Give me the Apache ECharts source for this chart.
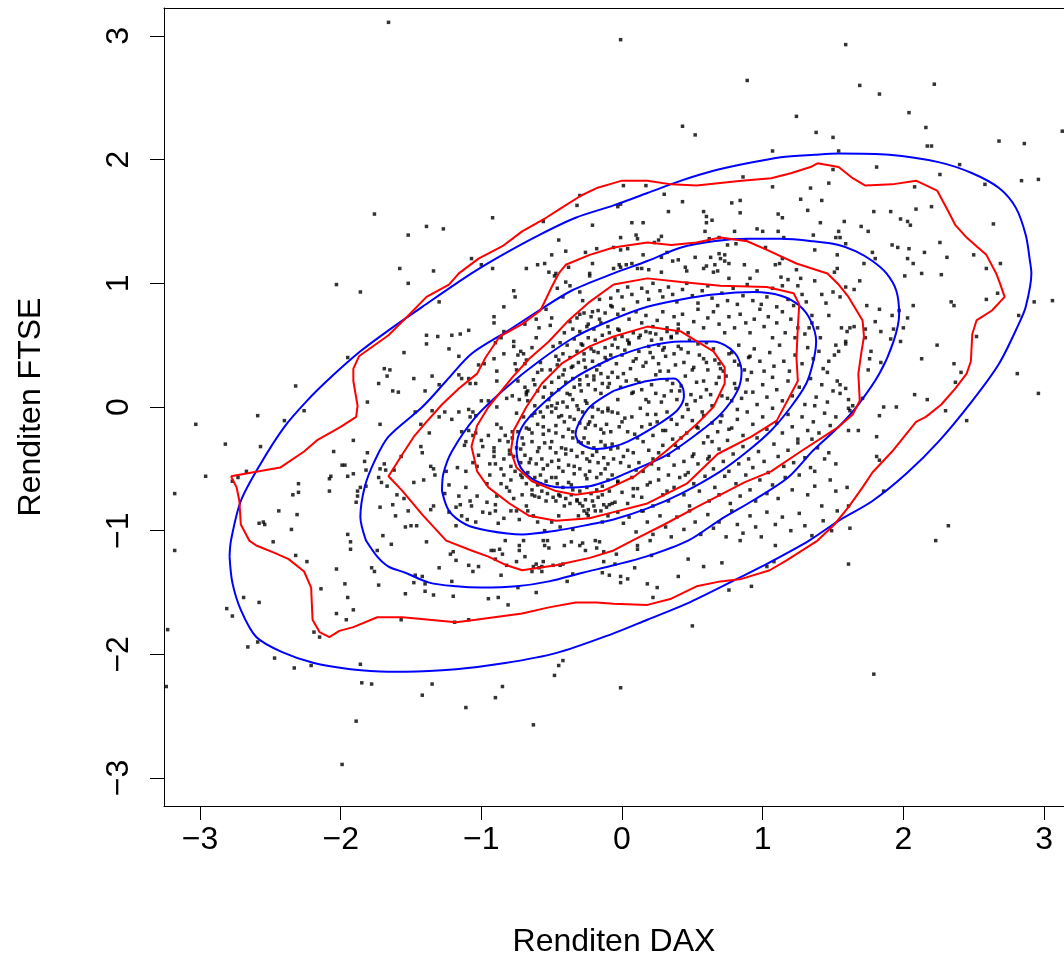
<!DOCTYPE html>
<html><head><meta charset="utf-8">
<script src="https://cdn.jsdelivr.net/npm/echarts@6/dist/echarts.min.js"></script>
<style>html,body{margin:0;padding:0;background:#fff}#c{width:1064px;height:958px}</style>
</head><body><div id="c"></div>
<script>
const xTicks=[-3,-2,-1,0,1,2,3];
const yTicks=[-3,-2,-1,0,1,2,3];
const xName='Renditen DAX';
const yName='Renditen FTSE';

// scattered returns (DAX, FTSE)
const pointsOuter=[
[-1.66,3.11],[-1.76,1.56],[-1.39,1.46],[-1.52,1.39],[-1.27,1.44],[-0.92,1.53],[-1.58,1.12],[-1.34,1.10],[-1.07,1.20],[-1.00,1.15],[-0.92,1.12],[-0.68,1.12],[-0.60,1.15],[-0.55,1.16],[-0.52,1.09],[-0.50,1.23],[-0.56,1.50],[-0.45,1.35],[-0.40,1.26],[-0.32,1.63],[-0.30,1.71],[-0.21,1.47],[-0.26,1.25],[-0.18,1.28],[-0.21,1.16],[-0.23,1.08],[-0.06,1.12],[-0.06,1.29],[-0.38,1.13],[-0.47,1.08],
[-0.01,2.97],[0.89,2.64],[1.24,2.35],[0.43,2.27],[0.52,2.20],[1.38,2.22],[1.50,2.18],[1.07,2.07],[1.54,2.07],[1.50,1.92],[0.86,1.86],[0.01,1.79],[0.17,1.79],[1.07,1.78],[1.34,1.77],[1.47,1.81],[0.30,1.72],[-0.03,1.62],[-0.01,1.64],[0.43,1.66],[0.78,1.65],[0.84,1.67],[1.27,1.68],[1.42,1.67],[0.33,1.58],[0.58,1.58],[0.60,1.54],[0.64,1.51],[0.84,1.57],[1.11,1.56],[1.14,1.53],[1.32,1.59],[1.41,1.49],[0.07,1.49],[0.15,1.49],[0.60,1.49],[-0.01,1.37],[0.10,1.39],[0.11,1.36],[0.28,1.38],[0.26,1.35],[0.23,1.33],[0.59,1.42],[0.80,1.42],[0.96,1.44],[1.00,1.42],[1.11,1.42],[1.36,1.39],[1.52,1.37],[1.54,1.42],[0.62,1.36],[0.69,1.37],[0.75,1.31],[0.81,1.32],[0.88,1.35],[1.02,1.29],[1.15,1.37],[1.37,1.27],[0.04,1.28],[-0.01,1.27],[0.15,1.23],[0.28,1.21],[0.32,1.25],[0.36,1.18],[0.40,1.19],[0.52,1.21],[0.63,1.21],[0.69,1.24],[0.73,1.23],[0.70,1.20],[0.73,1.18],[0.76,1.16],[0.87,1.15],[1.09,1.15],[1.12,1.16],[1.14,1.20],[1.53,1.23],[1.53,1.12],[-0.02,1.15],[0.03,1.15],[0.07,1.16],[0.11,1.12],[0.14,1.12],[0.19,1.11],[0.28,1.09],[0.45,1.13],[0.46,1.10],[0.58,1.12],[0.60,1.14],[0.65,1.09],[0.66,1.15],[0.68,1.10],[0.96,1.10],[1.24,1.11],[1.51,1.09],[-0.01,1.13],
[1.59,2.93],[1.69,2.60],[1.83,2.53],[2.22,2.61],[2.04,2.38],[2.16,2.26],[2.17,2.11],[2.20,2.11],[2.68,2.15],[2.86,2.13],[3.13,2.23],[1.81,1.94],[2.40,1.96],[2.26,1.88],[2.08,1.78],[2.84,1.83],[2.96,1.84],[2.58,1.80],[1.79,1.58],[1.91,1.58],[2.09,1.60],[2.20,1.62],[1.58,1.50],[1.98,1.52],[2.03,1.50],[2.05,1.47],[1.70,1.46],[1.75,1.42],[1.55,1.37],[2.64,1.48],[1.59,1.32],[1.92,1.31],[1.96,1.29],[2.04,1.28],[2.26,1.33],[2.15,1.25],[1.78,1.25],[1.80,1.20],[2.03,1.20],[2.07,1.16],[1.72,1.16],[2.31,1.21],[2.50,1.23],[2.69,1.16],[2.59,1.12],[2.13,1.08],
[-2.03,0.99],[-1.86,0.93],[-1.95,0.40],[-1.69,0.31],[-1.67,0.25],[-1.73,0.19],[-2.32,0.17],[-1.81,0.04],[-2.26,-0.03],[-2.59,-0.07],[-2.40,-0.11],[-3.03,-0.14],[-1.72,-0.14],[-1.91,-0.27],[-2.82,-0.30],[-2.57,-0.32],[-2.05,-0.36],[-1.81,-0.37],[-1.99,-0.47],[-1.97,-0.47],[-1.83,-0.44],[-1.69,-0.46],[-1.82,-0.51],[-1.72,-0.50],[-1.68,-0.51],[-1.91,-0.54],[-1.95,-0.56],[-2.07,-0.56],[-2.08,-0.58],[-1.73,-0.57],[-2.67,-0.52],[-2.96,-0.56],[-2.73,-0.57],[-2.77,-0.60],[-1.71,-0.61],[-1.67,-0.64],[-2.30,-0.62],[-1.82,-0.64],[-1.86,-0.65],[-1.88,-0.68],[-2.30,-0.69],[-2.34,-0.71],[-2.08,-0.68],[-1.88,-0.72],[-1.89,-0.77],[-3.18,-0.70],[-1.72,-0.81],[-2.44,-0.84],[-2.31,-0.87],[-2.58,-0.94],[-2.55,-0.93],[-2.54,-0.95],[-2.35,-0.99],[-1.95,-1.03],[-1.70,-1.04],
[-3.18,-1.16],[-2.48,-1.09],[-2.32,-1.20],[-2.24,-1.25],[-1.93,-1.09],[-1.93,-1.15],[-1.74,-1.16],[-2.03,-1.31],[-1.78,-1.30],[-1.76,-1.33],[-1.97,-1.43],[-1.73,-1.44],[-2.14,-1.47],[-1.95,-1.54],[-2.69,-1.54],[-2.58,-1.58],[-2.81,-1.63],[-2.77,-1.69],[-1.91,-1.64],[-2.03,-1.67],[-1.96,-1.72],[-3.23,-1.80],[-2.19,-1.82],[-2.15,-1.86],[-2.59,-1.90],[-2.66,-1.94],[-2.47,-2.03],[-2.33,-2.11],[-2.21,-2.09],[-1.86,-2.08],[-1.85,-2.23],[-1.78,-2.24],[-1.89,-2.54],[-1.99,-2.89],[-3.24,-2.26],
[-1.64,-1.11],[-1.39,-1.09],[-1.22,-1.19],[-1.20,-1.17],[-1.18,-1.24],[-1.30,-1.30],[-1.47,-1.36],[-1.42,-1.37],[-1.48,-1.42],[-1.40,-1.43],[-1.40,-1.49],[-1.54,-1.51],[-1.34,-1.52],[-1.21,-1.41],[-1.20,-1.53],[-1.09,-1.28],[-1.06,-1.33],[-1.02,-1.29],[-0.93,-1.16],[-0.91,-1.16],[-0.87,-1.15],[-0.85,-1.19],[-0.90,-1.23],[-0.83,-1.08],[-0.82,-1.28],[-0.86,-1.36],[-0.75,-1.25],[-0.73,-1.16],[-0.73,-1.12],[-0.69,-1.21],[-0.70,-1.08],[-0.74,-1.46],[-0.95,-1.55],[-0.88,-1.54],[-0.81,-1.60],[-0.64,-1.33],[-0.63,-1.29],[-0.61,-1.27],[-0.59,-1.30],[-0.57,-1.29],[-0.56,-1.25],[-0.57,-1.33],[-0.56,-1.08],[-0.55,-1.12],[-0.53,-1.08],[-0.52,-1.14],[-0.49,-1.28],[-0.44,-1.28],[-0.42,-1.27],[-0.41,-1.12],[-0.36,-1.09],[-0.39,-1.41],[-0.35,-1.35],[-0.30,-1.12],[-0.28,-1.10],[-0.26,-1.16],[-0.19,-1.08],[-0.16,-1.09],[-0.18,-1.14],[-0.13,-1.17],[-0.13,-1.25],[-0.14,-1.34],[-0.09,-1.36],[-0.61,-1.50],[-1.57,-1.72],[-1.19,-1.74],[-1.09,-1.72],[-1.35,-2.24],[-1.42,-2.33],[-1.11,-2.43],[-0.90,-2.35],[-0.85,-2.26],[-0.48,-2.17],[-0.45,-2.09],[-0.42,-2.05],[-0.63,-2.57],
[-0.04,-1.19],[-0.05,-1.27],[0.11,-1.12],[0.11,-1.15],[0.20,-1.08],[0.21,-1.20],[0.09,-1.30],[-0.01,-1.37],[-0.01,-1.42],[0.04,-1.39],[0.18,-1.43],[0.25,-1.46],[0.22,-1.54],[0.40,-1.37],[0.47,-1.23],[0.58,-1.29],[0.71,-1.26],[0.84,-1.08],[1.09,-1.12],[1.03,-1.29],[1.08,-1.25],[0.76,-1.48],[0.92,-1.45],[0.50,-1.77],[-0.01,-2.27],
[2.23,-1.08],[1.61,-1.27],[1.79,-2.16],
[1.69,1.02],[2.01,1.06],[2.27,1.07],[1.59,0.97],[1.65,0.95],[1.55,0.89],[1.74,0.82],[1.83,0.79],[1.92,0.74],[1.97,0.78],[2.07,0.82],[2.03,0.72],[2.34,0.85],[2.36,0.82],[2.59,0.87],[2.67,0.92],[2.93,0.85],[3.06,0.86],[2.82,0.74],[1.80,0.69],[1.56,0.64],[1.62,0.64],[1.65,0.65],[1.60,0.61],[1.73,0.63],[1.84,0.61],[1.93,0.63],[2.00,0.64],[1.73,0.56],[1.91,0.55],[1.98,0.53],[1.59,0.53],[1.59,0.51],[2.52,0.57],[2.24,0.50],[1.54,0.45],[1.77,0.45],[1.76,0.39],[2.13,0.39],[1.84,0.36],[1.75,0.30],[2.36,0.35],[2.41,0.28],[2.81,0.27],[2.37,0.20],[1.55,0.18],[1.59,0.15],[1.55,0.11],[2.96,0.11],[2.08,0.10],[2.17,0.06],[1.71,0.07],[1.61,0.06],[1.86,0.00],[1.95,0.00],[1.61,-0.01],[1.64,0.01],[1.62,-0.03],[1.83,-0.07],[2.30,-0.03],[2.45,-0.11],[1.61,-0.19],[1.68,-0.19],[1.81,-0.24],[1.81,-0.40],[1.83,-0.43],[1.60,-0.65],[1.86,-0.68],[1.61,-0.80],[1.62,-0.98],[2.32,-0.96]
];
const pointsLeftCore=[
[-1.52,1.00],[-1.30,0.85],[-0.77,0.94],[-0.76,0.89],[-0.84,0.81],[-0.48,1.06],[-0.40,1.01],[-0.37,0.98],[-0.46,0.96],[-0.42,0.89],[-0.30,0.93],[-0.28,0.86],[-0.23,1.06],[-0.16,0.87],[-0.08,0.88],[-0.08,0.82],[-0.21,0.77],[-0.30,0.75],[-0.16,0.71],[-0.24,0.67],[-0.50,0.72],[-0.51,0.66],[-0.54,0.79],[-0.61,0.71],[-0.59,0.64],[-0.69,0.67],[-0.61,0.56],[-0.64,0.48],[-0.77,0.53],[-0.77,0.49],[-0.91,0.73],[-0.91,0.68],[-0.84,0.61],[-0.86,0.56],[-1.09,0.62],[-1.15,0.59],[-1.21,0.58],[-1.31,0.57],[-1.39,0.58],[-1.39,0.51],[-1.23,0.47],[-1.16,0.41],[-1.55,0.44],[-1.65,0.30],[-1.48,0.23],[-1.35,0.25],[-1.30,0.18],[-1.16,0.26],[-1.14,0.23],[-1.09,0.23],[-1.08,0.19],[-1.04,0.19],[-1.02,0.34],[-0.98,0.35],[-0.84,0.43],[-0.90,0.52],[-0.91,0.39],[-0.89,0.21],[-0.89,0.29],[-0.74,0.42],[-0.72,0.45],[-0.70,0.43],[-0.76,0.35],[-0.75,0.30],[-0.69,0.35],[-0.68,0.38],[-0.58,0.36],[-0.57,0.30],[-0.63,0.22],[-0.62,0.18],[-0.69,0.16],[-0.68,0.12],[-0.67,0.13],[-0.74,0.21],[-0.78,0.09],[-0.73,0.06],[-0.82,0.07],[-0.89,0.00],[-0.95,0.05],[-1.00,0.05],[-1.09,-0.02],[-1.06,-0.04],[-1.04,-0.07],[-1.08,-0.08],[-1.16,-0.04],[-1.21,-0.10],[-1.26,-0.04],[-1.35,-0.03],[-1.30,-0.08],[-1.37,-0.21],[-1.43,-0.14],[-1.47,-0.04],[-1.63,0.13],[-1.59,0.12],[-1.40,0.13],[-1.43,-0.32],[-1.42,-0.37],[-1.57,-0.40],[-1.62,-0.51],[-1.48,-0.61],[-1.36,-0.48],[-1.34,-0.50],[-1.41,-0.59],[-1.33,-0.55],[-1.25,-0.52],[-1.23,-0.63],[-1.26,-0.70],[-1.17,-0.49],[-1.11,-0.52],[-1.06,-0.45],[-1.03,-0.48],[-1.02,-0.39],[-1.11,-0.28],[-1.12,-0.31],[-1.14,-0.20],[-1.09,-0.19],[-1.06,-0.23],[-1.04,-0.21],[-1.00,-0.27],[-0.95,-0.23],[-0.89,-0.14],[-0.86,-0.17],[-0.83,-0.23],[-0.87,-0.27],[-0.91,-0.33],[-0.91,-0.36],[-0.91,-0.40],[-0.99,-0.32],[-0.94,-0.46],[-0.90,-0.46],[-0.86,-0.50],[-0.84,-0.55],[-0.94,-0.55],[-0.96,-0.62],[-0.86,-0.62],[-0.82,-0.65],[-0.79,-0.59],[-0.80,-0.68],[-0.89,-0.72],[-0.90,-0.79],[-0.96,-0.77],[-1.03,-0.72],[-1.11,-0.65],[-1.16,-0.72],[-1.15,-0.79],[-1.08,-0.76],[-1.07,-0.80],[-1.18,-0.81],[-1.23,-0.85],[-1.34,-0.80],[-1.36,-0.83],[-1.52,-0.84],[-1.55,-0.74],[-1.61,-0.88],[-1.63,-0.79],[-1.60,-0.71],[-1.46,-0.96],[-1.50,-0.96],[-1.54,-0.97],[-1.18,-0.96],[-1.14,-0.88],[-1.10,-0.91],[-1.04,-0.93],[-0.99,-0.85],[-0.94,-0.86],[-0.90,-0.84],[-0.88,-0.94],[-0.84,-0.90],[-0.79,-0.84],[-0.75,-0.84],[-0.73,-0.91],[-0.68,-0.80],[-0.67,-0.84],[-0.63,-0.88],[-0.60,-0.93],[-0.55,-1.00],[-0.50,-0.93],[-0.45,-0.88],[-0.44,-0.97],[-0.35,-0.99],[-0.31,-0.88],[-0.27,-0.84],[-0.24,-0.88],[-0.19,-0.84],[-0.14,-0.93],[-0.10,-0.88],[-0.09,-0.79],[-0.13,-0.79],[-0.21,-0.76],[-0.26,-0.75],[-0.32,-0.76],[-0.37,-0.78],[-0.41,-0.80],[-0.47,-0.76],[-0.54,-0.76],[-0.59,-0.73],[-0.64,-0.71],[-0.71,-0.71],[-0.77,-0.74],
[-0.60,0.13],[-0.55,0.16],[-0.52,0.06],[-0.50,0.01],[-0.47,-0.01],[-0.42,0.04],[-0.39,0.00],[-0.35,0.06],[-0.32,0.01],[-0.28,-0.04],[-0.25,0.03],[-0.21,0.00],[-0.17,-0.02],[-0.14,-0.04],[-0.10,-0.01],[-0.07,-0.04],[-0.50,-0.04],[-0.45,-0.08],[-0.41,-0.12],[-0.37,-0.08],[-0.34,-0.10],[-0.30,-0.13],[-0.26,-0.17],[-0.23,-0.12],[-0.19,-0.15],[-0.15,-0.18],[-0.11,-0.14],[-0.08,-0.20],[-0.56,-0.16],[-0.52,-0.19],[-0.47,-0.21],[-0.42,-0.24],[-0.38,-0.18],[-0.35,-0.25],[-0.31,-0.28],[-0.27,-0.25],[-0.24,-0.29],[-0.20,-0.33],[-0.15,-0.28],[-0.12,-0.31],[-0.08,-0.34],[-0.64,-0.28],[-0.59,-0.33],[-0.55,-0.29],[-0.51,-0.33],[-0.47,-0.37],[-0.43,-0.33],[-0.40,-0.38],[-0.36,-0.35],[-0.32,-0.40],[-0.28,-0.37],[-0.25,-0.42],[-0.21,-0.39],[-0.17,-0.45],[-0.13,-0.41],[-0.10,-0.46],[-0.06,-0.42],[-0.69,-0.39],[-0.65,-0.42],[-0.61,-0.46],[-0.57,-0.42],[-0.53,-0.47],[-0.50,-0.44],[-0.45,-0.49],[-0.42,-0.52],[-0.38,-0.47],[-0.34,-0.54],[-0.30,-0.50],[-0.26,-0.55],[-0.23,-0.52],[-0.18,-0.57],[-0.15,-0.54],[-0.10,-0.59],[-0.07,-0.55],[-0.67,-0.53],[-0.62,-0.57],[-0.58,-0.55],[-0.54,-0.60],[-0.50,-0.57],[-0.46,-0.62],[-0.42,-0.65],[-0.38,-0.61],[-0.35,-0.67],[-0.30,-0.68],[-0.25,-0.65],[-0.22,-0.70],[-0.18,-0.67],[-0.14,-0.71],[-0.09,-0.68],[-0.53,-0.70],[-0.49,-0.73],[-0.45,-0.71],[-0.40,-0.74],[-0.36,-0.71],[-0.32,-0.75],[-0.28,-0.80],[-0.24,-0.83],[-0.20,-0.80],[-0.15,-0.84],[-0.11,-0.81],[-0.07,-0.78],[-0.60,-0.14],[-0.64,-0.21],[-0.68,-0.17],[-0.71,-0.25],[-0.74,-0.20],[-0.78,-0.25],[-0.81,-0.28],[-0.75,-0.33],[-0.72,-0.34],[-0.77,-0.40],[-0.72,-0.45],[-0.80,-0.38],[-0.84,-0.42],[-0.79,-0.48],[-0.76,-0.52],[-0.71,-0.57],[-0.68,-0.62],[-0.64,-0.67],[-0.60,-0.63],[-0.57,-0.68],[-0.56,-0.08],[-0.58,-0.04],[-0.64,-0.07],[-0.62,0.01],[-0.67,0.05],[-0.70,-0.08],[-0.50,0.11],[-0.45,0.14],[-0.39,0.11],[-0.34,0.16],[-0.29,0.13],[-0.24,0.18],[-0.19,0.14],[-0.14,0.19],[-0.10,0.16],[-0.45,0.24],[-0.40,0.20],[-0.35,0.23],[-0.30,0.22],[-0.25,0.25],[-0.20,0.22],[-0.15,0.27],[-0.10,0.24],[-0.07,0.28],[-0.51,0.30],[-0.46,0.34],[-0.41,0.30],[-0.36,0.32],[-0.31,0.36],[-0.26,0.32],[-0.21,0.37],[-0.16,0.34],[-0.11,0.38],[-0.08,0.42],[-0.47,0.41],[-0.42,0.43],[-0.37,0.40],[-0.32,0.45],[-0.27,0.43],[-0.22,0.47],[-0.17,0.44],[-0.12,0.48],[-0.07,0.50],[-0.49,0.49],[-0.44,0.52],[-0.39,0.50],[-0.34,0.55],[-0.29,0.51],[-0.24,0.56],[-0.19,0.54],[-0.14,0.58],[-0.09,0.60],[-0.41,0.60],[-0.35,0.63],[-0.30,0.61],[-0.25,0.65],[-0.20,0.63],[-0.15,0.68],[-0.10,0.65],[-0.37,0.69],[-0.32,0.72],[-0.27,0.76],[-0.22,0.73],[-0.17,0.78],[-0.12,0.76],[-0.07,0.81]
];
const pointsRightCore=[
[-0.03,0.94],[0.00,0.89],[0.04,0.97],[0.07,0.91],[0.11,0.85],[0.14,0.96],[0.18,0.93],[0.19,0.87],[0.22,1.00],[0.27,0.94],[0.29,0.89],[0.33,0.97],[0.36,0.91],[0.39,0.85],[0.43,0.95],[0.46,1.00],[0.50,0.90],[0.54,0.84],[0.57,0.94],[0.61,0.98],[0.64,0.88],[0.68,0.82],[0.71,0.92],[0.75,0.86],[0.76,1.04],[0.79,0.96],[0.82,0.83],[0.86,0.90],[0.89,0.99],[0.91,1.04],[0.93,0.86],[0.96,0.94],[0.99,0.83],[1.03,0.89],[1.07,0.96],[1.10,0.81],[1.13,1.05],[1.14,0.98],[1.18,0.87],[1.18,1.03],[1.22,0.82],[1.25,0.98],[1.27,1.04],[1.28,0.91],[1.31,0.85],[1.37,1.02],[1.42,0.91],[1.45,0.84],[1.47,0.74],[1.50,0.93],[1.35,0.74],[1.39,0.64],[1.33,0.64],
[-0.03,0.75],[0.01,0.79],[0.05,0.71],[0.10,0.77],[0.14,0.68],[0.17,0.74],[0.22,0.65],[0.25,0.70],[0.29,0.77],[0.32,0.64],[0.37,0.73],[0.40,0.67],[0.43,0.75],[0.47,0.60],[0.51,0.69],[0.54,0.79],[0.58,0.64],[0.61,0.72],[0.65,0.77],[0.69,0.67],[0.73,0.60],[0.76,0.73],[0.80,0.64],[0.84,0.75],[0.88,0.68],[0.91,0.60],[0.94,0.71],[0.98,0.79],[1.01,0.65],[1.04,0.73],[1.07,0.56],[1.10,0.68],[1.14,0.77],[1.16,0.60],[1.20,0.71],[1.23,0.56],[1.25,0.64],[1.30,0.59],[1.35,0.68],[1.41,0.56],[-0.03,0.63],[0.00,0.57],[0.04,0.54],[0.08,0.60],[0.12,0.56],[0.17,0.61],[0.21,0.54],[0.24,0.59],[0.28,0.55],[0.32,0.61],[0.35,0.56],[0.39,0.60],
[-0.03,0.48],[0.00,0.42],[0.05,0.51],[0.08,0.37],[0.12,0.45],[0.15,0.33],[0.19,0.49],[0.22,0.40],[0.26,0.35],[0.29,0.46],[0.33,0.29],[0.37,0.43],[0.40,0.49],[0.44,0.36],[0.47,0.44],[0.51,0.32],[0.54,0.51],[0.58,0.39],[0.61,0.30],[0.65,0.47],[0.69,0.35],[0.72,0.29],[0.76,0.43],[0.80,0.37],[0.83,0.50],[0.87,0.30],[0.91,0.41],[0.94,0.47],[0.98,0.37],[1.01,0.29],[1.05,0.44],[1.08,0.33],[1.12,0.50],[1.15,0.37],[1.19,0.29],[1.23,0.42],[1.28,0.35],[1.32,0.48],[1.36,0.39],[1.40,0.45],[1.43,0.31],[1.47,0.37],[1.51,0.42],[1.46,0.28],[1.52,0.50],
[-0.03,0.24],[-0.01,0.16],[0.03,0.21],[0.07,0.11],[0.10,0.22],[0.14,0.14],[0.17,0.06],[0.21,0.18],[0.24,0.11],[0.28,0.04],[0.32,0.22],[0.35,0.13],[0.39,0.06],[0.42,0.17],[0.46,0.02],[0.49,0.10],[0.53,0.20],[0.56,0.08],[0.60,0.14],[0.64,0.01],[0.67,0.19],[0.71,0.09],[0.74,0.25],[0.78,0.05],[0.81,0.15],[0.85,0.07],[0.89,0.22],[0.93,0.12],[0.96,0.02],[1.00,0.18],[1.03,0.08],[1.07,0.24],[1.10,0.14],[1.14,0.05],[1.18,0.21],[1.21,0.09],[1.26,0.16],[1.30,0.02],[1.34,0.23],[1.38,0.08],[1.42,0.18],[1.46,0.04],[1.50,0.13],[1.53,0.21],[1.37,0.01],
[-0.03,-0.05],[0.00,-0.12],[0.04,-0.20],[0.07,-0.08],[0.11,-0.25],[0.14,-0.16],[0.18,-0.06],[0.22,-0.23],[0.25,-0.12],[0.29,-0.19],[0.32,-0.04],[0.36,-0.26],[0.39,-0.14],[0.43,-0.08],[0.46,-0.21],[0.50,-0.11],[0.54,-0.17],[0.57,-0.04],[0.61,-0.24],[0.64,-0.13],[0.68,-0.20],[0.71,-0.07],[0.75,-0.27],[0.78,-0.17],[0.82,-0.10],[0.86,-0.23],[0.89,-0.04],[0.93,-0.14],[0.96,-0.25],[1.00,-0.08],[1.03,-0.18],[1.07,-0.01],[1.10,-0.13],[1.14,-0.21],[1.18,-0.06],[1.21,-0.16],[1.25,-0.26],[1.28,-0.08],[1.32,-0.19],[1.36,-0.12],[1.40,-0.21],[1.44,-0.05],[1.48,-0.15],[1.52,-0.08],[1.35,-0.26],
[-0.03,-0.33],[0.01,-0.40],[0.05,-0.48],[0.08,-0.37],[0.12,-0.45],[0.15,-0.52],[0.19,-0.35],[0.22,-0.42],[0.26,-0.50],[0.29,-0.31],[0.33,-0.39],[0.37,-0.47],[0.40,-0.33],[0.44,-0.44],[0.47,-0.53],[0.51,-0.38],[0.54,-0.46],[0.58,-0.29],[0.61,-0.42],[0.65,-0.50],[0.69,-0.34],[0.72,-0.44],[0.76,-0.52],[0.79,-0.38],[0.83,-0.46],[0.86,-0.32],[0.90,-0.42],[0.93,-0.49],[0.97,-0.36],[1.01,-0.44],[1.04,-0.53],[1.08,-0.30],[1.11,-0.40],[1.15,-0.48],[1.18,-0.35],[1.22,-0.45],[1.25,-0.29],[1.30,-0.41],[1.34,-0.49],[1.39,-0.33],[1.44,-0.42],[1.47,-0.37],[1.52,-0.46],[1.37,-0.52],
[-0.03,-0.61],[0.00,-0.69],[0.04,-0.78],[0.07,-0.57],[0.11,-0.66],[0.14,-0.73],[0.18,-0.63],[0.22,-0.80],[0.26,-0.59],[0.29,-0.71],[0.33,-0.76],[0.37,-0.65],[0.41,-0.57],[0.44,-0.71],[0.48,-0.80],[0.51,-0.62],[0.55,-0.68],[0.59,-0.56],[0.62,-0.76],[0.66,-0.65],[0.69,-0.71],[0.73,-0.56],[0.77,-0.78],[0.81,-0.62],[0.84,-0.72],[0.88,-0.55],[0.91,-0.67],[0.95,-0.76],[0.98,-0.59],[1.03,-0.70],[1.07,-0.63],[1.11,-0.74],[1.16,-0.57],[1.21,-0.67],[1.26,-0.55],[1.32,-0.71],[1.37,-0.64],[1.42,-0.80],[1.48,-0.59],[1.52,-0.68],
[-0.03,-0.85],[0.01,-0.94],[0.05,-0.89],[0.10,-1.01],[0.14,-0.84],[0.18,-0.93],[0.22,-1.03],[0.27,-0.88],[0.31,-0.97],[0.35,-1.05],[0.39,-0.89],[0.44,-0.99],[0.48,-0.84],[0.52,-0.93],[0.56,-1.03],[0.61,-0.87],[0.65,-0.98],[0.69,-0.93],[0.74,-1.05],[0.78,-0.84],[0.82,-0.95],[0.86,-1.02],[0.91,-0.88],[0.95,-0.97],[0.99,-1.05],[1.03,-0.85],[1.09,-0.95],[1.14,-0.89],[1.20,-1.00],[1.26,-0.86],[1.30,-0.96],[1.35,-1.04],[1.43,-0.92],[1.49,-1.00],[1.53,-0.84]
];
const pointsCenter=[
[-0.05,0.55],[0.05,0.52],[0.13,0.58],[0.26,0.50],[0.35,0.57],[0.48,0.54],[0.60,0.52],
[-0.20,0.45],[-0.12,0.40],[0.02,0.46],[0.10,0.39],[0.20,0.44],[0.31,0.41],[0.42,0.47],[0.55,0.42],[0.66,0.38],[0.78,0.44],
[-0.35,0.33],[-0.27,0.38],[-0.18,0.30],[-0.04,0.35],[0.06,0.31],[0.17,0.36],[0.27,0.29],[0.38,0.34],[0.50,0.30],[0.60,0.36],[0.70,0.31],[0.83,0.34],
[-0.50,0.20],[-0.42,0.26],[-0.30,0.18],[-0.20,0.25],[-0.09,0.19],[0.01,0.27],[0.12,0.20],[0.24,0.26],[0.36,0.19],[0.45,0.25],[0.58,0.21],[0.69,0.24],[0.80,0.19],
[-0.56,0.08],[-0.46,0.03],[-0.37,0.10],[-0.26,0.05],[-0.15,0.11],[-0.03,0.06],[0.08,0.12],[0.19,0.04],[0.30,0.09],[0.41,0.13],[0.52,0.05],[0.63,0.10],[0.75,0.07],
[-0.62,-0.05],[-0.53,0.00],[-0.43,-0.07],[-0.31,-0.02],[-0.21,-0.08],[-0.10,-0.03],[0.02,-0.09],[0.13,-0.01],[0.24,-0.06],[0.35,-0.10],[0.47,-0.02],[0.58,-0.07],[0.70,-0.12],
[-0.66,-0.18],[-0.56,-0.22],[-0.47,-0.15],[-0.35,-0.20],[-0.24,-0.14],[-0.13,-0.21],[-0.02,-0.16],[0.09,-0.22],[0.20,-0.14],[0.31,-0.19],[0.42,-0.25],[0.53,-0.16],[0.64,-0.28],
[-0.70,-0.30],[-0.60,-0.36],[-0.50,-0.28],[-0.40,-0.34],[-0.29,-0.29],[-0.18,-0.36],[-0.07,-0.30],[0.04,-0.35],[0.15,-0.28],[0.26,-0.37],[0.38,-0.31],[0.50,-0.40],
[-0.66,-0.45],[-0.56,-0.50],[-0.45,-0.43],[-0.34,-0.48],[-0.23,-0.44],[-0.12,-0.50],[-0.01,-0.45],[0.10,-0.51],[0.21,-0.46],[0.33,-0.55],
[-0.58,-0.62],[-0.47,-0.57],[-0.36,-0.63],[-0.25,-0.58],[-0.14,-0.64],[-0.03,-0.60],[0.08,-0.66],[0.20,-0.61],
[-0.44,-0.72],[-0.30,-0.78],[-0.17,-0.73],[-0.05,-0.77],[0.08,-0.72],
[-0.02,0.62],[0.20,0.60],[0.40,0.63],[-0.28,0.50],[0.30,0.48],[0.90,0.40],[-0.45,0.38],[0.92,0.28],[-0.60,0.28],[-0.68,0.10],[0.88,0.12],[-0.75,-0.05],[0.82,-0.02],[-0.78,-0.20],[0.76,-0.18],[-0.80,-0.35],[0.62,-0.40],[-0.72,-0.55],[0.45,-0.55],[-0.62,-0.72],[0.32,-0.68],[-0.25,-0.86],[0.15,-0.84]
];

// fitted normal density contours (blue)
const blue1=[[-2.79,-1.21],[-2.78,-1.08],[-2.71,-0.76],[-2.57,-0.46],[-2.40,-0.16],[-2.24,0.05],[-2.07,0.24],[-1.86,0.45],[-1.66,0.62],[-1.42,0.81],[-1.07,1.08],[-0.85,1.23],[-0.59,1.39],[-0.33,1.53],[-0.06,1.63],[0.18,1.73],[0.42,1.83],[0.65,1.91],[0.89,1.97],[1.13,2.02],[1.37,2.04],[1.54,2.05],[1.90,2.04],[2.25,1.98],[2.49,1.89],[2.68,1.77],[2.80,1.61],[2.87,1.39],[2.90,1.18],[2.91,1.08],[2.87,0.81],[2.82,0.67],[2.68,0.35],[2.49,0.05],[2.25,-0.28],[2.02,-0.54],[1.78,-0.76],[1.54,-0.92],[1.33,-1.08],[1.06,-1.25],[0.80,-1.40],[0.46,-1.59],[0.18,-1.72],[-0.06,-1.83],[-0.47,-1.99],[-0.83,-2.07],[-1.18,-2.12],[-1.54,-2.14],[-1.66,-2.14],[-1.93,-2.12],[-2.19,-2.07],[-2.42,-1.98],[-2.60,-1.86],[-2.71,-1.64],[-2.77,-1.42]];
const blue2=[[-1.82,-1.08],[-1.86,-0.89],[-1.83,-0.65],[-1.76,-0.44],[-1.66,-0.24],[-1.42,0.00],[-1.25,0.21],[-1.07,0.43],[-0.82,0.61],[-0.59,0.78],[-0.36,0.94],[-0.06,1.08],[0.18,1.18],[0.42,1.29],[0.65,1.34],[0.89,1.36],[1.13,1.36],[1.36,1.34],[1.54,1.31],[1.66,1.26],[1.78,1.18],[1.88,1.08],[1.95,0.94],[1.97,0.75],[1.93,0.53],[1.83,0.27],[1.68,0.02],[1.54,-0.16],[1.36,-0.35],[1.18,-0.57],[0.94,-0.75],[0.70,-0.91],[0.47,-1.08],[0.17,-1.21],[-0.06,-1.28],[-0.28,-1.34],[-0.52,-1.41],[-0.75,-1.45],[-1.00,-1.46],[-1.18,-1.45],[-1.37,-1.42],[-1.54,-1.34],[-1.66,-1.29],[-1.74,-1.21]];
const blue3=[[-1.28,-0.68],[-1.27,-0.54],[-1.21,-0.36],[-1.04,-0.08],[-0.82,0.16],[-0.59,0.37],[-0.33,0.57],[-0.06,0.71],[0.18,0.81],[0.42,0.87],[0.65,0.91],[0.94,0.93],[1.13,0.90],[1.26,0.82],[1.34,0.70],[1.38,0.53],[1.36,0.37],[1.31,0.19],[1.20,0.00],[1.06,-0.19],[0.89,-0.36],[0.70,-0.52],[0.42,-0.70],[0.18,-0.82],[-0.06,-0.91],[-0.23,-0.95],[-0.47,-1.00],[-0.71,-1.03],[-0.95,-1.00],[-1.11,-0.95],[-1.23,-0.84]];
const blue4=[[-0.06,0.40],[-0.33,0.24],[-0.57,0.02],[-0.71,-0.16],[-0.75,-0.34],[-0.72,-0.49],[-0.61,-0.60],[-0.43,-0.65],[-0.23,-0.64],[-0.06,-0.58],[0.06,-0.52],[0.30,-0.40],[0.53,-0.22],[0.70,-0.06],[0.82,0.13],[0.85,0.29],[0.80,0.44],[0.65,0.53],[0.42,0.53],[0.18,0.49]];
const blue5=[[-0.06,0.13],[-0.23,0.00],[-0.31,-0.14],[-0.33,-0.22],[-0.29,-0.30],[-0.18,-0.34],[-0.06,-0.32],[0.04,-0.28],[0.23,-0.16],[0.39,-0.03],[0.44,0.08],[0.43,0.16],[0.37,0.23],[0.18,0.21]];

const red1=[[-2.78,-0.56],[-2.43,-0.49],[-2.26,-0.36],[-2.17,-0.27],[-2.00,-0.16],[-1.89,-0.08],[-1.88,0.01],[-1.91,0.21],[-1.91,0.31],[-1.87,0.41],[-1.66,0.58],[-1.51,0.75],[-1.39,0.89],[-1.23,0.99],[-1.16,1.08],[-1.02,1.20],[-0.85,1.30],[-0.71,1.42],[-0.54,1.53],[-0.43,1.61],[-0.29,1.71],[-0.18,1.77],[-0.06,1.81],[0.00,1.83],[0.18,1.83],[0.35,1.80],[0.53,1.79],[0.85,1.83],[1.06,1.85],[1.20,1.89],[1.34,1.94],[1.39,1.97],[1.54,1.94],[1.64,1.85],[1.73,1.79],[1.92,1.80],[2.09,1.83],[2.24,1.75],[2.32,1.58],[2.37,1.47],[2.45,1.37],[2.52,1.30],[2.59,1.23],[2.66,1.08],[2.69,0.99],[2.72,0.89],[2.63,0.78],[2.52,0.70],[2.49,0.59],[2.48,0.37],[2.45,0.27],[2.37,0.15],[2.27,0.02],[2.16,-0.08],[2.09,-0.12],[1.92,-0.36],[1.78,-0.53],[1.71,-0.65],[1.61,-0.81],[1.51,-0.95],[1.39,-1.08],[1.17,-1.24],[1.05,-1.32],[0.85,-1.39],[0.70,-1.41],[0.53,-1.45],[0.35,-1.55],[0.18,-1.60],[-0.06,-1.59],[-0.18,-1.58],[-0.33,-1.58],[-0.52,-1.62],[-0.71,-1.67],[-1.04,-1.72],[-1.18,-1.74],[-1.37,-1.72],[-1.56,-1.70],[-1.74,-1.70],[-1.91,-1.78],[-2.01,-1.81],[-2.08,-1.86],[-2.15,-1.82],[-2.20,-1.72],[-2.21,-1.46],[-2.26,-1.33],[-2.37,-1.23],[-2.47,-1.18],[-2.60,-1.12],[-2.65,-1.08],[-2.71,-0.95],[-2.72,-0.76],[-2.74,-0.65]];
const red2=[[-0.45,1.08],[-0.50,0.97],[-0.58,0.78],[-0.71,0.67],[-0.87,0.57],[-0.97,0.40],[-1.03,0.27],[-1.16,0.15],[-1.28,0.02],[-1.39,-0.12],[-1.48,-0.24],[-1.56,-0.38],[-1.66,-0.56],[-1.56,-0.68],[-1.42,-0.87],[-1.25,-1.08],[-1.07,-1.16],[-0.95,-1.21],[-0.82,-1.28],[-0.71,-1.32],[-0.59,-1.30],[-0.47,-1.28],[-0.23,-1.22],[-0.06,-1.16],[0.09,-1.07],[0.30,-0.95],[0.53,-0.81],[0.87,-0.61],[1.06,-0.52],[1.27,-0.36],[1.54,-0.16],[1.64,-0.06],[1.69,0.05],[1.68,0.27],[1.70,0.43],[1.72,0.57],[1.71,0.70],[1.61,0.89],[1.54,0.99],[1.46,1.08],[1.24,1.16],[1.03,1.27],[0.89,1.34],[0.70,1.37],[0.53,1.33],[0.35,1.31],[0.18,1.33],[-0.06,1.29],[-0.23,1.23],[-0.40,1.15]];
const red3=[[-0.06,0.99],[-0.23,0.85],[-0.38,0.70],[-0.52,0.53],[-0.66,0.39],[-0.78,0.24],[-0.95,0.00],[-1.03,-0.15],[-1.07,-0.32],[-1.03,-0.52],[-0.95,-0.65],[-0.80,-0.78],[-0.66,-0.88],[-0.47,-0.92],[-0.23,-0.90],[-0.06,-0.85],[0.18,-0.78],[0.46,-0.62],[0.68,-0.38],[0.92,-0.24],[1.10,-0.11],[1.25,0.21],[1.24,0.40],[1.25,0.65],[1.26,0.83],[1.22,0.92],[1.03,0.97],[0.70,0.98],[0.42,1.01],[0.18,1.04]];
const red4=[[-0.06,0.57],[-0.23,0.49],[-0.43,0.35],[-0.57,0.19],[-0.68,0.00],[-0.77,-0.19],[-0.79,-0.36],[-0.75,-0.49],[-0.64,-0.60],[-0.47,-0.68],[-0.33,-0.71],[-0.14,-0.68],[-0.06,-0.64],[0.09,-0.56],[0.32,-0.35],[0.53,-0.14],[0.65,0.00],[0.73,0.19],[0.73,0.32],[0.65,0.45],[0.42,0.61],[0.18,0.65]];

const close=a=>a.concat([a[0]]);
const FONT='"Liberation Sans", Arial, Helvetica, sans-serif';
const fmt=v=>v<0?'\u2212'+Math.abs(v):String(v);
const XMIN=-3.256, XMAX=3.142, YMIN=-3.226, YMAX=3.226;

const chart=echarts.init(document.getElementById('c'),null,{renderer:'canvas'});
const lineSeries=(d,color,sm)=>({type:'line',data:close(d),showSymbol:false,symbol:'none',smooth:sm,
  lineStyle:{color:color,width:2},z:5,animation:false,silent:true});
chart.setOption({
  animation:false,
  backgroundColor:'#fff',
  grid:{left:164,top:8,width:900,height:798,show:false,containLabel:false,outerBoundsMode:'none'},
  xAxis:[{type:'value',min:XMIN,max:XMAX,position:'bottom',
    axisLine:{show:true,onZero:false,lineStyle:{color:'#000',width:1}},
    axisTick:{show:true,length:14,customValues:xTicks,lineStyle:{color:'#000',width:1}},
    axisLabel:{customValues:xTicks,formatter:fmt,fontSize:32,color:'#000',margin:18,fontFamily:FONT},
    splitLine:{show:false},
    name:xName,nameLocation:'middle',nameGap:120,nameTextStyle:{fontSize:32,color:'#000',fontFamily:FONT}},
   {type:'value',min:XMIN,max:XMAX,position:'top',
    axisLine:{show:true,onZero:false,lineStyle:{color:'#000',width:1}},
    axisTick:{show:false},axisLabel:{show:false},splitLine:{show:false}}],
  yAxis:{type:'value',min:YMIN,max:YMAX,
    axisLine:{show:true,onZero:false,lineStyle:{color:'#000',width:1}},
    axisTick:{show:true,length:14,customValues:yTicks,lineStyle:{color:'#000',width:1}},
    axisLabel:{customValues:yTicks,formatter:fmt,fontSize:32,color:'#000',margin:29,rotate:90,fontFamily:FONT},
    splitLine:{show:false},
    name:yName,nameLocation:'middle',nameGap:117,nameRotate:90,nameTextStyle:{fontSize:32,color:'#000',fontFamily:FONT}},
  series:[
    {type:'scatter',data:pointsOuter.concat(pointsLeftCore,pointsRightCore,pointsCenter),symbol:'rect',symbolSize:3.5,
     itemStyle:{color:'#000'},z:2,animation:false,silent:true},
    lineSeries(blue1,'#0000ff',0.3),lineSeries(blue2,'#0000ff',0.3),lineSeries(blue3,'#0000ff',0.3),
    lineSeries(blue4,'#0000ff',0.3),lineSeries(blue5,'#0000ff',0.3),
    lineSeries(red1,'#ff0000',false),lineSeries(red2,'#ff0000',false),lineSeries(red3,'#ff0000',false),lineSeries(red4,'#ff0000',false)
  ]
});
</script></body></html>
